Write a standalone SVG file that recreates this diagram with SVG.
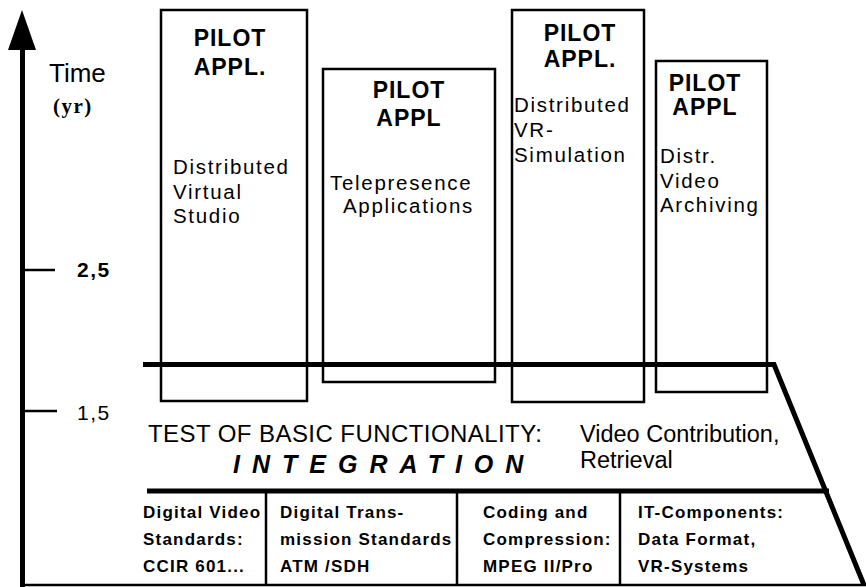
<svg xmlns="http://www.w3.org/2000/svg" width="866" height="587" viewBox="0 0 866 587">
<style>
.t{font-family:"Liberation Sans",Arial,sans-serif;fill:#000}
.box{fill:none;stroke:#000;stroke-width:2.5}
.hd{font-size:23px;font-weight:bold;letter-spacing:1px}
.bd{font-size:20.5px;letter-spacing:1.7px}
.bt{font-size:17px;font-weight:bold;letter-spacing:1.2px}
.thick{stroke:#000;stroke-width:5;fill:none}
.thin{stroke:#000;stroke-width:2.5;fill:none}
</style>
<rect width="866" height="587" fill="#fff"/>
<g id="axis">
<line x1="22.5" y1="45" x2="22.5" y2="587" class="thick"/>
<polygon points="22,10 8,50 36,50" fill="#000"/>
<line x1="22" y1="585" x2="866" y2="585" class="thin"/>
<line x1="22" y1="270" x2="55" y2="270" class="thin"/>
<line x1="22" y1="411" x2="57" y2="411" class="thin"/>
<text class="t" x="49" y="82" font-size="26">Time</text>
<text x="53" y="113" font-family="Liberation Serif,serif" font-size="21" font-weight="bold" letter-spacing="1.5">(yr)</text>
<text class="t" x="77" y="277" font-size="21" font-weight="bold" letter-spacing="1.5">2,5</text>
<text class="t" x="77" y="420" font-size="21" letter-spacing="1.5">1,5</text>
</g>
<g id="pilot1">
<rect x="161" y="10" width="146" height="391" class="box"/>
<text class="t hd" x="230" y="46" text-anchor="middle">PILOT</text>
<text class="t hd" x="230" y="75" text-anchor="middle">APPL.</text>
<text class="t bd" x="173" y="174">Distributed</text>
<text class="t bd" x="173" y="199">Virtual</text>
<text class="t bd" x="173" y="223">Studio</text>
</g>
<g id="pilot2">
<rect x="323" y="69" width="172" height="313" class="box"/>
<text class="t hd" x="409" y="98" text-anchor="middle">PILOT</text>
<text class="t hd" x="409" y="126" text-anchor="middle">APPL</text>
<text class="t bd" x="330" y="190">Telepresence</text>
<text class="t bd" x="343" y="213">Applications</text>
</g>
<g id="pilot3">
<rect x="512" y="10" width="132" height="392" class="box"/>
<text class="t hd" x="580" y="41" text-anchor="middle">PILOT</text>
<text class="t hd" x="580" y="67" text-anchor="middle">APPL.</text>
<text class="t bd" x="514" y="112">Distributed</text>
<text class="t bd" x="514" y="137">VR-</text>
<text class="t bd" x="514" y="162">Simulation</text>
</g>
<g id="pilot4">
<rect x="656" y="61" width="111" height="331" class="box"/>
<text class="t hd" x="705" y="91" text-anchor="middle">PILOT</text>
<text class="t hd" x="705" y="115" text-anchor="middle">APPL</text>
<text class="t bd" x="660" y="163">Distr.</text>
<text class="t bd" x="660" y="188">Video</text>
<text class="t bd" x="660" y="212">Archiving</text>
</g>
<g id="connectors">
<polyline points="143,364.5 774,364.5 864,585" class="thick"/>
<line x1="147" y1="491" x2="829" y2="491" class="thick"/>
<line x1="266" y1="491" x2="266" y2="585" class="thin"/>
<line x1="457" y1="491" x2="457" y2="585" class="thin"/>
<line x1="620" y1="491" x2="620" y2="585" class="thin"/>
</g>
<g id="integration">
<text class="t" x="148" y="442" font-size="24" textLength="394" lengthAdjust="spacing">TEST OF BASIC FUNCTIONALITY:</text>
<text class="t" x="233" y="473" font-size="25" font-weight="bold" font-style="italic" letter-spacing="12">INTEGRATION</text>
<text class="t" x="580" y="442" font-size="23.5">Video Contribution,</text>
<text class="t" x="580" y="468" font-size="23.5">Retrieval</text>
</g>
<g id="components">
<text class="t bt" x="143" y="518">Digital Video</text>
<text class="t bt" x="143" y="545">Standards:</text>
<text class="t bt" x="143" y="572">CCIR 601...</text>
<text class="t bt" x="280" y="518">Digital Trans-</text>
<text class="t bt" x="280" y="545">mission Standards</text>
<text class="t bt" x="280" y="572">ATM /SDH</text>
<text class="t bt" x="483" y="518">Coding and</text>
<text class="t bt" x="483" y="545">Compression:</text>
<text class="t bt" x="483" y="572">MPEG II/Pro</text>
<text class="t bt" x="638" y="518">IT-Components:</text>
<text class="t bt" x="638" y="545">Data Format,</text>
<text class="t bt" x="638" y="572">VR-Systems</text>
</g>
</svg>
